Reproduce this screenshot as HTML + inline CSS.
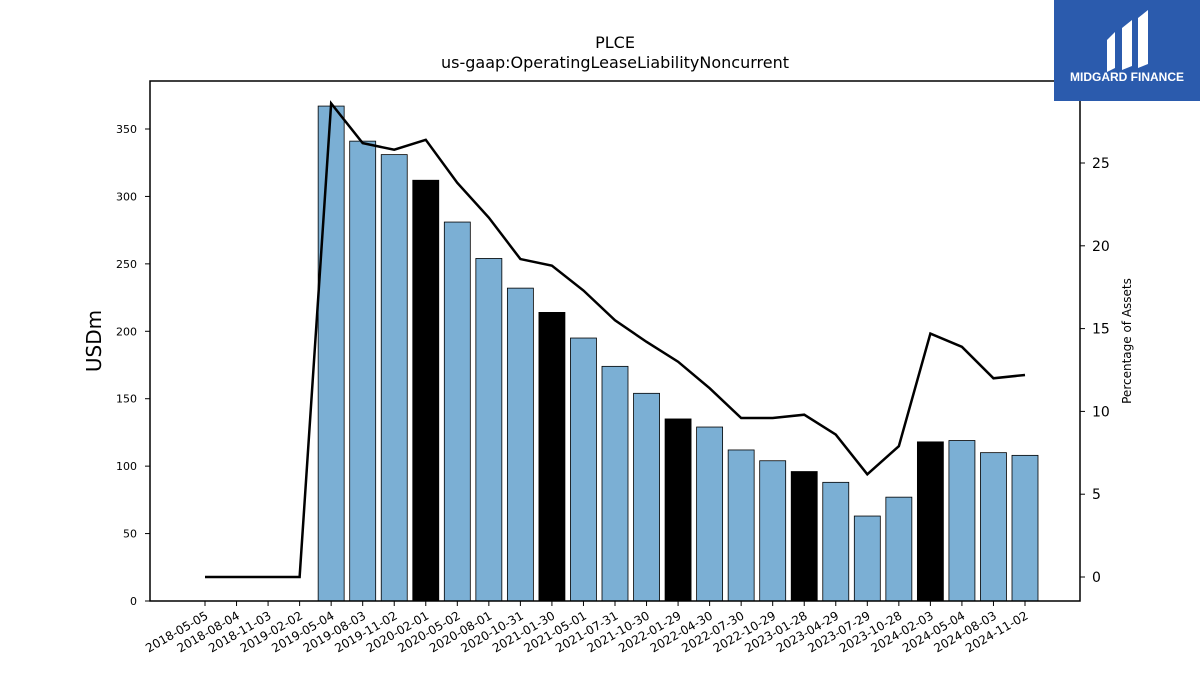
<!DOCTYPE html>
<html><head><meta charset="utf-8"><style>
body{margin:0;background:#fff;width:1200px;height:675px;overflow:hidden;font-family:"Liberation Sans","DejaVu Sans",sans-serif}
</style></head><body>
<svg id="chart" width="1200" height="675" xmlns="http://www.w3.org/2000/svg" font-family="DejaVu Sans, Liberation Sans, sans-serif">
<text x="615" y="48" text-anchor="middle" font-size="16">PLCE</text>
<text x="615" y="68" text-anchor="middle" font-size="16">us-gaap:OperatingLeaseLiabilityNoncurrent</text>
<g id="bars"></g>
<g id="line"></g>
<g id="axes"></g>
<rect x="150" y="81" width="930" height="520" fill="none" stroke="#000" stroke-width="1.5"/>
<text transform="translate(101,341) rotate(-90)" text-anchor="middle" font-size="20">USDm</text>
<text transform="translate(1131,341) rotate(-90)" text-anchor="middle" font-size="12">Percentage of Assets</text>
<g>
<rect x="1054" y="0" width="146" height="101" fill="#2b5bad"/>
<path d="M1107 40 L1115 32 L1115 68 L1107 72 Z" fill="#fff"/>
<path d="M1122 28 L1132 20 L1132 66 L1122 70 Z" fill="#fff"/>
<path d="M1138 18 L1148 10 L1148 64 L1138 68 Z" fill="#fff"/>
<text x="1127" y="81" text-anchor="middle" font-size="12" font-weight="bold" fill="#fff" font-family="Liberation Sans, sans-serif">MIDGARD FINANCE</text>
</g>
</svg>
<script>
const categories=["2018-05-05","2018-08-04","2018-11-03","2019-02-02","2019-05-04","2019-08-03","2019-11-02","2020-02-01","2020-05-02","2020-08-01","2020-10-31","2021-01-30","2021-05-01","2021-07-31","2021-10-30","2022-01-29","2022-04-30","2022-07-30","2022-10-29","2023-01-28","2023-04-29","2023-07-29","2023-10-28","2024-02-03","2024-05-04","2024-08-03","2024-11-02"];
const barValues=[0,0,0,0,367,341,331,312,281,254,232,214,195,174,154,135,129,112,104,96,88,63,77,118,119,110,108];
const highlight=[0,0,0,0,0,0,0,1,0,0,0,1,0,0,0,1,0,0,0,1,0,0,0,1,0,0,0];
const pctValues=[0,0,0,0,28.6,26.2,25.8,26.4,23.8,21.7,19.2,18.8,17.3,15.5,14.2,13.0,11.4,9.6,9.6,9.8,8.6,6.2,7.9,14.7,13.9,12.0,12.2];
const leftTicks=[0,50,100,150,200,250,300,350];
const rightTicks=[0,5,10,15,20,25];
const NS="http://www.w3.org/2000/svg";
const x=i=>205+i*(1025-205)/26;
const yL=v=>601-v*(472/350);
const yR=v=>577-v*(414/25);
function mk(t,a,p){const e=document.createElementNS(NS,t);for(const k in a)e.setAttribute(k,a[k]);p.appendChild(e);return e;}
const bars=document.getElementById('bars'),line=document.getElementById('line'),axes=document.getElementById('axes');
barValues.forEach((v,i)=>{if(v<=0)return;
const r=mk('rect',{x:x(i)-13,y:yL(v),width:26,height:yL(0)-yL(v),fill:highlight[i]?'#000':'#7bafd4',stroke:'#000','stroke-width':0.8},bars);

});
const pl=mk('polyline',{points:pctValues.map((v,i)=>x(i)+','+yR(v)).join(' '),fill:'none',stroke:'#000','stroke-width':2.5},line);


leftTicks.forEach(v=>{mk('line',{x1:145,x2:150,y1:yL(v),y2:yL(v),stroke:'#000'},axes);
const t=mk('text',{x:137,y:yL(v)+4,'text-anchor':'end','font-size':11},axes);t.textContent=v;

});
rightTicks.forEach(v=>{mk('line',{x1:1080,x2:1085,y1:yR(v),y2:yR(v),stroke:'#000'},axes);
const t=mk('text',{x:1092,y:yR(v)+5,'font-size':14},axes);t.textContent=v;

});
categories.forEach((c,i)=>{mk('line',{x1:x(i),x2:x(i),y1:601,y2:606,stroke:'#000'},axes);
const t=mk('text',{transform:'translate('+(x(i)+4)+',618) rotate(-30)','text-anchor':'end','font-size':12},axes);t.textContent=c;

});
</script>
</body></html>
